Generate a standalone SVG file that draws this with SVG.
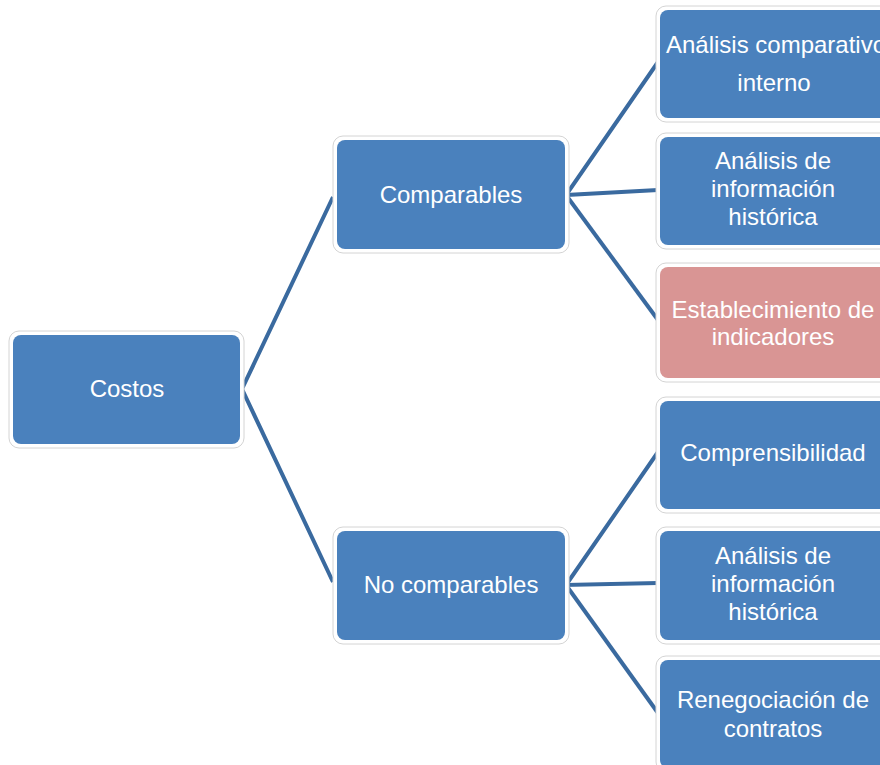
<svg xmlns="http://www.w3.org/2000/svg" width="880" height="765" viewBox="0 0 880 765">
<style>
.halo{fill:#ffffff;stroke:#d4d4d4;stroke-width:1}
.box{fill:#4a81bd}
.pink{fill:#d99594}
.t{fill:#ffffff;font-family:"Liberation Sans",Arial,sans-serif;font-size:24px;text-anchor:middle}
.c{stroke:#3a6a9f;stroke-width:4;fill:none;stroke-linejoin:miter}
</style>
<rect width="880" height="765" fill="#ffffff"/>
<g id="connectors">
<polyline class="c" points="333,197 242,389 333,582"/>
<polyline class="c" points="658,62 566,195 658,190"/>
<line class="c" x1="566" y1="195" x2="658" y2="320"/>
<polyline class="c" points="658,452 566,585 658,583"/>
<line class="c" x1="566" y1="585" x2="658" y2="713"/>
</g>
<g id="costos">
<rect class="halo" x="9" y="331" width="235" height="117" rx="10"/>
<rect class="box" x="13" y="335" width="227" height="109" rx="8"/>
<text class="t" x="127" y="397">Costos</text>
</g>
<g id="comparables">
<rect class="halo" x="333" y="136" width="236" height="117" rx="10"/>
<rect class="box" x="337" y="140" width="228" height="109" rx="8"/>
<text class="t" x="451" y="203">Comparables</text>
</g>
<g id="no-comparables">
<rect class="halo" x="333" y="527" width="236" height="117" rx="10"/>
<rect class="box" x="337" y="531" width="228" height="109" rx="8"/>
<text class="t" x="451" y="593">No comparables</text>
</g>
<g id="analisis-comparativo">
<rect class="halo" x="656" y="6" width="236" height="116" rx="10"/>
<rect class="box" x="660" y="10" width="228" height="108" rx="8"/>
<text class="t" x="776" y="53">Análisis comparativo</text>
<text class="t" x="774" y="91">interno</text>
</g>
<g id="analisis-historica-1">
<rect class="halo" x="656" y="133" width="236" height="116" rx="10"/>
<rect class="box" x="660" y="137" width="228" height="108" rx="8"/>
<text class="t" x="773" y="169">Análisis de</text>
<text class="t" x="773" y="197">información</text>
<text class="t" x="773" y="225">histórica</text>
</g>
<g id="establecimiento">
<rect class="halo" x="656" y="263" width="236" height="119" rx="10"/>
<rect class="pink" x="660" y="267" width="228" height="111" rx="8"/>
<text class="t" x="773" y="318">Establecimiento de</text>
<text class="t" x="773" y="345">indicadores</text>
</g>
<g id="comprensibilidad">
<rect class="halo" x="656" y="397" width="236" height="116" rx="10"/>
<rect class="box" x="660" y="401" width="228" height="108" rx="8"/>
<text class="t" x="773" y="461">Comprensibilidad</text>
</g>
<g id="analisis-historica-2">
<rect class="halo" x="656" y="527" width="236" height="117" rx="10"/>
<rect class="box" x="660" y="531" width="228" height="109" rx="8"/>
<text class="t" x="773" y="564">Análisis de</text>
<text class="t" x="773" y="592">información</text>
<text class="t" x="773" y="620">histórica</text>
</g>
<g id="renegociacion">
<rect class="halo" x="656" y="656" width="236" height="116" rx="10"/>
<rect class="box" x="660" y="660" width="228" height="108" rx="8"/>
<text class="t" x="773" y="708">Renegociación de</text>
<text class="t" x="773" y="737">contratos</text>
</g>
</svg>
